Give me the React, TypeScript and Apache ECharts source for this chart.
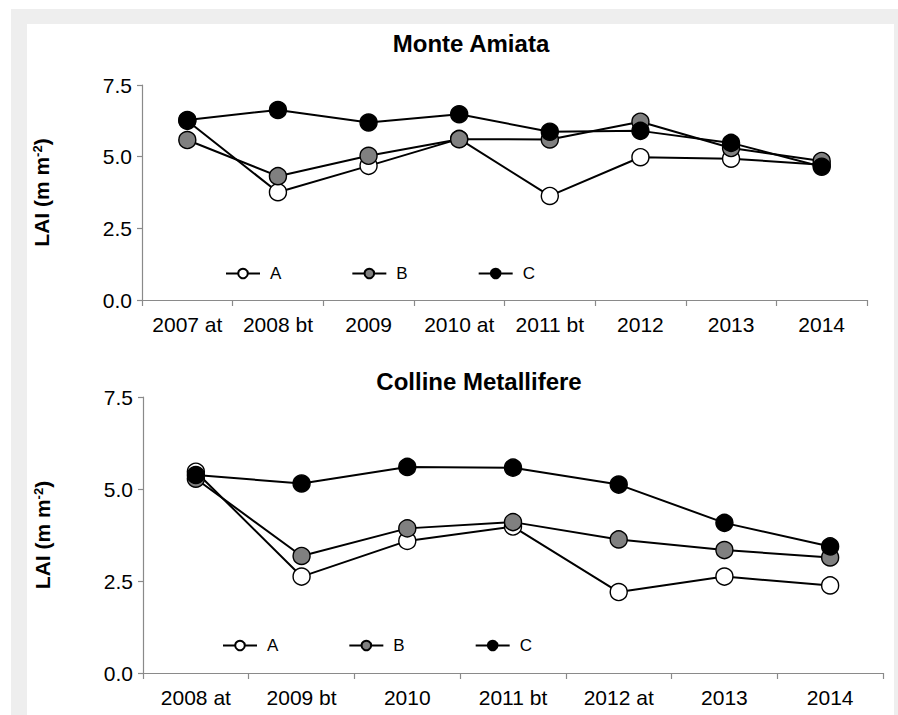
import React, { useEffect, useRef } from "react";
import * as echarts from "echarts";

const topCategories = ["2007 at", "2008 bt", "2009", "2010 at", "2011 bt", "2012", "2013", "2014"];
const topA = [6.25, 3.76, 4.68, 5.62, 3.63, 4.98, 4.93, 4.72];
const topB = [5.58, 4.32, 5.03, 5.61, 5.6, 6.22, 5.3, 4.85];
const topC = [6.28, 6.63, 6.19, 6.48, 5.87, 5.9, 5.48, 4.65];

const botCategories = ["2008 at", "2009 bt", "2010", "2011 bt", "2012 at", "2013", "2014"];
const botA = [5.47, 2.62, 3.59, 3.98, 2.2, 2.62, 2.38];
const botB = [5.28, 3.18, 3.93, 4.1, 3.63, 3.34, 3.14];
const botC = [5.38, 5.15, 5.6, 5.58, 5.12, 4.08, 3.44];

const yTicks = [0, 2.5, 5, 7.5];
const seriesNames = ["A", "B", "C"];
const fills = ["#ffffff", "#808080", "#000000"];

const FONT = "'Liberation Sans', Arial, sans-serif";

export default function App() {
  const ref = useRef<HTMLDivElement>(null);
  useEffect(() => {
    if (!ref.current) return;
    const chart = echarts.init(ref.current, undefined, { renderer: "svg" });

    const axisLineStyle = { color: "#8a8a8a", width: 1.2 };
    const xAxis = (idx: number, cats: string[]) => ({
      type: "category",
      gridIndex: idx,
      data: cats,
      boundaryGap: true,
      axisLine: { show: true, lineStyle: axisLineStyle },
      axisTick: { show: true, length: 6, inside: false, interval: 0, lineStyle: axisLineStyle },
      axisLabel: { color: "#000", fontSize: 21, fontFamily: FONT, margin: 14, interval: 0, hideOverlap: false },
      splitLine: { show: false },
    });
    const yAxis = (idx: number) => ({
      type: "value",
      gridIndex: idx,
      min: yTicks[0],
      max: yTicks[yTicks.length - 1],
      interval: yTicks[1] - yTicks[0],
      axisLine: { show: true, lineStyle: axisLineStyle },
      axisTick: { show: true, length: 5, lineStyle: axisLineStyle },
      axisLabel: {
        color: "#000",
        fontSize: 21,
        fontFamily: FONT,
        margin: 10,
        formatter: (v: number) => v.toFixed(1),
      },
      splitLine: { show: false },
      name: "{b|LAI (m m}{s|-2}{b|)}",
      nameLocation: "middle",
      nameRotate: 90,
      nameGap: 90,
      nameTextStyle: {
        rich: {
          b: { fontSize: 21, fontWeight: "bold", fontFamily: FONT, color: "#000" },
          s: { fontSize: 13, fontWeight: "bold", fontFamily: FONT, color: "#000", verticalAlign: "top" },
        },
      },
    });

    const mkSeries = (data: number[][], gi: number) =>
      data.map((d, i) => ({
        name: seriesNames[i],
        type: "line",
        xAxisIndex: gi,
        yAxisIndex: gi,
        data: d,
        symbol: "circle",
        symbolSize: 17,
        z: 2 + i,
        lineStyle: { color: "#000", width: 2 },
        itemStyle: { color: fills[i], borderColor: "#000", borderWidth: 1.4 },
      }));

    const legendBase = {
      data: seriesNames,
      orient: "horizontal",
      padding: 0,
      itemWidth: 34,
      itemHeight: 12,
      itemGap: 70,
      textStyle: { fontSize: 17, fontFamily: FONT, color: "#000", padding: [0, 0, 0, 5] },
      selectedMode: false,
    };

    const titleStyle = { fontSize: 24, fontWeight: "bold", fontFamily: FONT, color: "#000" };

    chart.setOption({
      animation: false,
      backgroundColor: "transparent",
      title: [
        { text: "Monte Amiata", left: 466, top: 26, textAlign: "center", textStyle: titleStyle },
        { text: "Colline Metallifere", left: 474, top: 364, textAlign: "center", textStyle: titleStyle },
      ],
      legend: [
        { ...legendBase, left: 225, top: 265 },
        { ...legendBase, left: 222, top: 637 },
      ],
      grid: [
        { left: 142, top: 85, width: 725, height: 215 },
        { left: 143, top: 397, width: 740, height: 276 },
      ],
      xAxis: [xAxis(0, topCategories), xAxis(1, botCategories)],
      yAxis: [yAxis(0), yAxis(1)],
      series: [...mkSeries([topA, topB, topC], 0), ...mkSeries([botA, botB, botC], 1)],
    });
    return () => chart.dispose();
  }, []);

  return (
    <div style={{ position: "absolute", left: 0, top: 0, width: 898, height: 715, background: "#fff" }}>
      <div style={{ position: "absolute", left: 11, top: 9, width: 887, height: 706, background: "#eeeeee" }} />
      <div style={{ position: "absolute", left: 27, top: 24, width: 867, height: 691, background: "#fff" }} />
      <div ref={ref} style={{ position: "absolute", left: 0, top: 0, width: 898, height: 715 }} />
    </div>
  );
}
